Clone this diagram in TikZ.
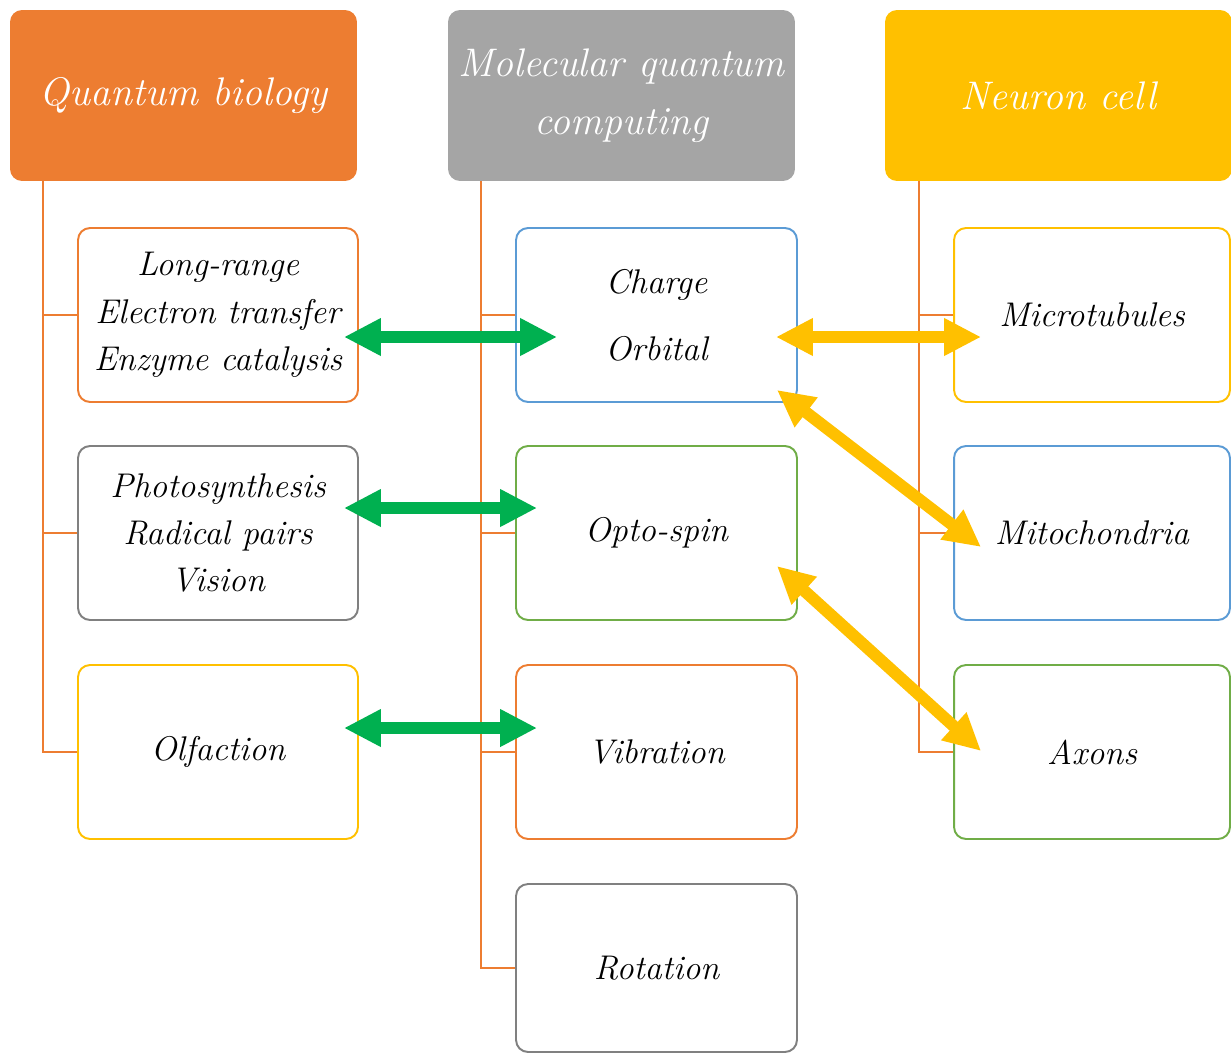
\documentclass[tikz,border=0pt]{standalone}
\usepackage{fontspec}
\usetikzlibrary{arrows.meta,calc}
\definecolor{qorange}{HTML}{ED7D31}
\definecolor{qgray}{HTML}{A5A5A5}
\definecolor{qyellow}{HTML}{FFC000}
\definecolor{qblue}{HTML}{5B9BD5}
\definecolor{qgreen}{HTML}{70AD47}
\definecolor{agreen}{HTML}{00B050}
\definecolor{bgray}{HTML}{808080}
\begin{document}
\begin{tikzpicture}[x=0.02cm,y=-0.02cm,
  header/.style={rounded corners=0.24cm, minimum width=6.94cm, minimum height=3.42cm,
    text=white, font=\fontsize{22.7}{33}\selectfont\itshape, align=center, inner sep=0pt},
  child/.style={draw, line width=1.1pt, rounded corners=0.24cm, minimum width=5.6cm,
    minimum height=3.48cm, fill=white, font=\fontsize{19.5}{27}\selectfont\itshape,
    align=center, inner sep=0pt},
  tree/.style={draw=qorange, line width=1.1pt},
  garrow/.style={draw=agreen, line width=6.8pt,
    {Triangle[length=21pt,width=20pt]}-{Triangle[length=21pt,width=20pt]}},
  yarrow/.style={draw=qyellow, line width=6.8pt,
    {Triangle[length=21pt,width=20pt]}-{Triangle[length=21pt,width=20pt]}},
]
\useasboundingbox (0,0) rectangle (1231,1055);

% headers
\node[header, fill=qorange] (qb) at (183.5,95.5) {Quantum biology};
\node[header, fill=qgray] (mq) at (621.5,95.5) {Molecular quantum\\computing};
\node[header, fill=qyellow] (nc) at (1058.5,95.5) {Neuron cell};

% left column
\node[child, draw=qorange] (lb1) at (218,315) {Long-range\\Electron transfer\\Enzyme catalysis};
\node[child, draw=bgray] (lb2) at (218,533) {Photosynthesis\\Radical pairs\\Vision};
\node[child, draw=qyellow] (lb3) at (218,752) {Olfaction};

% middle column
\node[child, draw=qblue, minimum width=5.62cm] (mb1) at (656.5,315) {Charge\\[11pt]Orbital};
\node[child, draw=qgreen, minimum width=5.62cm] (mb2) at (656.5,533) {Opto-spin};
\node[child, draw=qorange, minimum width=5.62cm] (mb3) at (656.5,752) {Vibration};
\node[child, draw=bgray, minimum width=5.62cm, minimum height=3.36cm] (mb4) at (656.5,968) {Rotation};

% right column
\node[child, draw=qyellow, minimum width=5.52cm] (rb1) at (1092,315) {Microtubules};
\node[child, draw=qblue, minimum width=5.52cm] (rb2) at (1092,533) {Mitochondria};
\node[child, draw=qgreen, minimum width=5.52cm] (rb3) at (1092,752) {Axons};

% tree lines
\coordinate (lt) at ($(qb.south west)+(33,0)$);
\coordinate (mt) at ($(mq.south west)+(33,0)$);
\coordinate (rt) at ($(nc.south west)+(34,0)$);
\draw[tree] (lt) |- (lb3.west);
\draw[tree] (lb1.west) -- (lb1.west -| lt);
\draw[tree] (lb2.west) -- (lb2.west -| lt);
\draw[tree] (mt) |- (mb4.west);
\draw[tree] (mb1.west) -- (mb1.west -| mt);
\draw[tree] (mb2.west) -- (mb2.west -| mt);
\draw[tree] (mb3.west) -- (mb3.west -| mt);
\draw[tree] (rt) |- (rb3.west);
\draw[tree] (rb1.west) -- (rb1.west -| rt);
\draw[tree] (rb2.west) -- (rb2.west -| rt);

% green arrows
\draw[garrow] ($(lb1.east)+(-15,22)$) -- ($(mb1.west)+(42,22)$);
\draw[garrow] ($(lb2.east)+(-15,-25)$) -- ($(mb2.west)+(22,-25)$);
\draw[garrow] ($(lb3.east)+(-15,-24)$) -- ($(mb3.west)+(22,-24)$);

% yellow arrows
\draw[yarrow] ($(mb1.east)+(-22,22)$) -- ($(rb1.west)+(28,22)$);
\draw[yarrow] ($(mb1.south east)+(-21,-13)$) -- ($(rb2.west)+(28,14)$);
\draw[yarrow] ($(mb2.east)+(-21,33)$) -- ($(rb3.west)+(28,-1)$);
\end{tikzpicture}
\end{document}
